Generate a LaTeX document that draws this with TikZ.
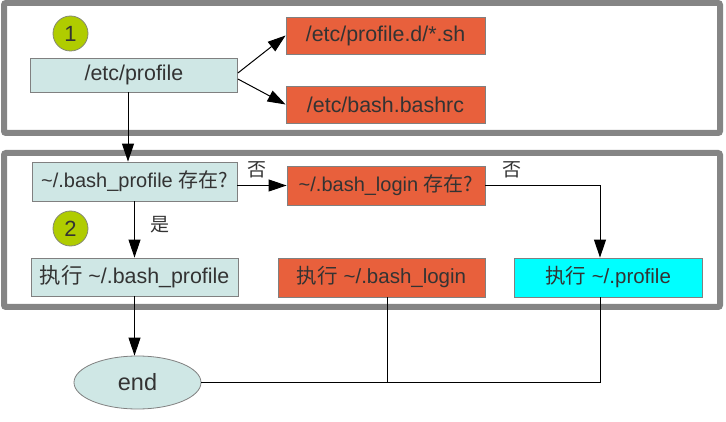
\documentclass[tikz,border=0pt]{standalone}
\usepackage{fontspec}
\setmainfont{Liberation Sans}
\newfontfamily\cjk{Noto Sans CJK SC}
\usetikzlibrary{arrows.meta,shapes.geometric}

\definecolor{boxteal}{HTML}{CFE7E5}
\definecolor{boxred}{HTML}{E8603C}
\definecolor{boxcyan}{HTML}{00FFFF}
\definecolor{stepgreen}{HTML}{B0CC00}
\definecolor{framegray}{HTML}{858585}
\definecolor{txtgray}{HTML}{333333}

\tikzset{
  basebox/.style={draw=gray, line width=0.8pt, text=txtgray, inner sep=0pt,
    font=\fontsize{20.5}{24}\selectfont},
  tealbox/.style={basebox, fill=boxteal},
  redbox/.style={basebox, fill=boxred},
  cyanbox/.style={basebox, fill=boxcyan},
  numcircle/.style={circle, draw=gray!90!stepgreen, line width=0.8pt, fill=stepgreen,
    minimum size=35pt, inner sep=0pt, text=txtgray, font=\fontsize{22}{26}\selectfont},
  frame/.style={draw=framegray, line width=6pt, rounded corners=2pt},
  flow/.style={-{Triangle[length=18pt,width=12pt]}, line width=1pt},
  plain/.style={line width=1pt},
  lbl/.style={text=txtgray, inner sep=0pt, font=\cjk\fontsize{19}{22}\selectfont}
}

\begin{document}
\begin{tikzpicture}[x=1pt,y=-1pt]
\useasboundingbox (0,0) rectangle (726,422);

\draw[frame] (4,3) rectangle (720,133);
\draw[frame] (4,153) rectangle (720,307);

\node[numcircle] (stepOne) at (70.5,33.5) {1};
\node[numcircle] (stepTwo) at (70.5,228.5) {2};

\node[tealbox, minimum width=207pt, minimum height=34pt, font=\fontsize{21.4}{25}\selectfont] (etcProfile) at (134,75) {/etc/profile};
\node[redbox, minimum width=199pt, minimum height=37pt, font=\fontsize{21.4}{25}\selectfont] (profileD) at (385.5,35.5) {/etc/profile.d/*.sh};
\node[redbox, minimum width=199pt, minimum height=37pt, font=\fontsize{21.4}{25}\selectfont] (bashrc) at (385.5,104.5) {/etc/bash.bashrc};

\node[tealbox, minimum width=205pt, minimum height=39pt, font=\fontsize{20}{24}\selectfont] (bashProfileQ) at (134.5,181.5) {\~{}/.bash\_profile {\cjk 存在?}};
\node[redbox, minimum width=198pt, minimum height=39pt, font=\fontsize{20}{24}\selectfont] (bashLoginQ) at (386,185.5) {\~{}/.bash\_login {\cjk 存在?}};

\node[tealbox, minimum width=207pt, minimum height=38pt, font=\fontsize{21.4}{25}\selectfont] (runBashProfile) at (134.5,277) {{\cjk 执行} \~{}/.bash\_profile};
\node[redbox, minimum width=207pt, minimum height=39pt] (runBashLogin) at (381.5,277.5) {{\cjk 执行} \~{}/.bash\_login};
\node[cyanbox, minimum width=188pt, minimum height=39pt] (runProfile) at (608,277.5) {{\cjk 执行} \~{}/.profile};

\node[ellipse, basebox, fill=boxteal, minimum width=127pt, minimum height=53pt, font=\fontsize{23.5}{28}\selectfont] (endNode) at (137.5,382.5) {end};

\draw[flow] ([yshift=2pt]etcProfile.east) -- (profileD.west);
\draw[flow] ([yshift=-4pt]etcProfile.east) -- (bashrc.west);
\draw[flow] ([xshift=-6pt]etcProfile.south) -- ([xshift=-6pt]etcProfile.south |- bashProfileQ.north);
\draw[flow] (bashProfileQ.east |- bashLoginQ.west) -- (bashLoginQ.west);
\draw[flow] (bashProfileQ.south) -- (runBashProfile.north);
\draw[flow] (bashLoginQ.east) -| ([xshift=-8pt]runProfile.north);
\draw[flow] (runBashProfile.south) -- (runBashProfile.south |- endNode.north);
\draw[plain] (endNode.east) -| ([xshift=-8pt]runProfile.south);
\draw[plain] ([xshift=6pt]runBashLogin.south) -- ([xshift=6pt]runBashLogin.south |- endNode.east);

\node[lbl] (noOne) at (257,170) {否};
\node[lbl] (noTwo) at (512,170) {否};
\node[lbl] (yesOne) at (160,225) {是};
\end{tikzpicture}
\end{document}
